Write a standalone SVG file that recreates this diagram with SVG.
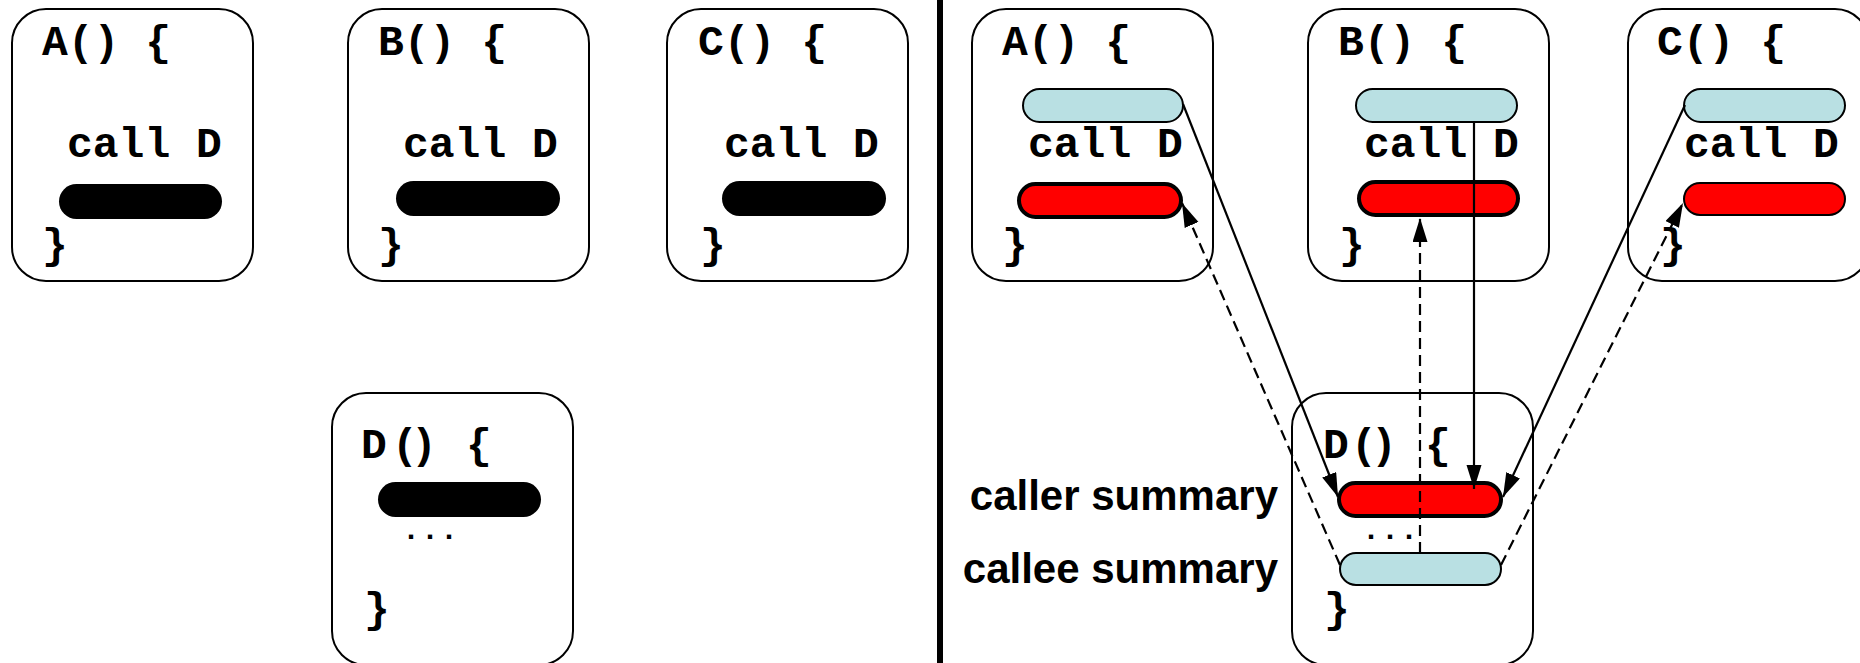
<svg xmlns="http://www.w3.org/2000/svg" width="1860" height="663" viewBox="0 0 1860 663">
<style>
.box{fill:#fff;stroke:#000;stroke-width:2}
.code{font-family:"Liberation Mono","Courier New",monospace;font-weight:bold;font-size:43px;fill:#000}
.dots{font-family:"Liberation Mono","Courier New",monospace;font-weight:bold;font-size:30px;fill:#000}
.lbl{font-family:"Liberation Sans",Arial,sans-serif;font-weight:bold;font-size:42px;fill:#000;text-anchor:end}
.blk{fill:#000}
.blue{fill:#b9e0e3;stroke:#000;stroke-width:2}
.red{fill:#ff0000;stroke:#000;stroke-width:4}
.redthin{fill:#ff0000;stroke:#000;stroke-width:2}
.conn{fill:none;stroke:#000;stroke-width:2.2}
.dash{stroke-dasharray:11 6}
</style>
<defs>
<marker id="arr" markerUnits="userSpaceOnUse" markerWidth="26" markerHeight="16" refX="24" refY="7.5" orient="auto">
<path d="M0,0 L24,7.5 L0,15 Z" fill="#000"/>
</marker>
</defs>
<rect id="divider" x="937" y="0" width="6" height="663" fill="#000"/>
<g id="left-A">
<rect class="box" x="12" y="9" width="241" height="272" rx="34"/>
<text class="code" x="42" y="55">A() {</text>
<text class="code" x="67" y="157">call D</text>
<rect class="blk" x="59" y="184" width="163" height="35" rx="17.5"/>
<text class="code" x="42" y="258">}</text>
</g>
<g id="left-B">
<rect class="box" x="348" y="9" width="241" height="272" rx="34"/>
<text class="code" x="378" y="55">B() {</text>
<text class="code" x="403" y="157">call D</text>
<rect class="blk" x="396" y="181" width="164" height="35" rx="17.5"/>
<text class="code" x="378" y="258">}</text>
</g>
<g id="left-C">
<rect class="box" x="667" y="9" width="241" height="272" rx="34"/>
<text class="code" x="698" y="55">C() {</text>
<text class="code" x="724" y="157">call D</text>
<rect class="blk" x="722" y="181" width="164" height="35" rx="17.5"/>
<text class="code" x="700" y="258">}</text>
</g>
<g id="left-D">
<rect class="box" x="332" y="393" width="241" height="272" rx="34"/>
<text class="code" x="361 392 411 440 466" y="458">D() {</text>
<rect class="blk" x="378" y="482" width="163" height="35" rx="17.5"/>
<text class="dots" x="402 421 440" y="539">...</text>
<text class="code" x="364" y="622">}</text>
</g>
<g id="right-A">
<rect class="box" x="972" y="9" width="241" height="272" rx="34"/>
<text class="code" x="1002" y="55">A() {</text>
<rect class="blue" x="1023" y="89" width="160" height="33" rx="16.5"/>
<text class="code" x="1028" y="157">call D</text>
<rect class="red" x="1019" y="184" width="162" height="33" rx="16.5"/>
<text class="code" x="1002" y="258">}</text>
</g>
<g id="right-B">
<rect class="box" x="1308" y="9" width="241" height="272" rx="34"/>
<text class="code" x="1338" y="55">B() {</text>
<rect class="blue" x="1356" y="89" width="161" height="33" rx="16.5"/>
<text class="code" x="1364" y="157">call D</text>
<rect class="red" x="1359" y="182" width="159" height="33" rx="16.5"/>
<text class="code" x="1339" y="258">}</text>
</g>
<g id="right-C">
<rect class="box" x="1628" y="9" width="241" height="272" rx="34"/>
<text class="code" x="1657" y="55">C() {</text>
<rect class="blue" x="1684" y="89" width="161" height="33" rx="16.5"/>
<text class="code" x="1684" y="157">call D</text>
<rect class="redthin" x="1684" y="183" width="161" height="32" rx="16"/>
<text class="code" x="1660" y="258">}</text>
</g>
<g id="right-D">
<rect class="box" x="1292" y="393" width="241" height="272" rx="34"/>
<text class="code" x="1323 1351 1371 1400 1425" y="458">D() {</text>
<rect class="red" x="1339" y="483" width="162" height="33" rx="16.5"/>
<text class="dots" x="1362 1381 1400" y="539">...</text>
<rect class="blue" x="1340" y="553" width="161" height="32" rx="16"/>
<text class="code" x="1324" y="622">}</text>
</g>
<g id="labels">
<text class="lbl" x="1278" y="510">caller summary</text>
<text class="lbl" x="1278" y="583">callee summary</text>
</g>
<g id="connectors">
<line class="conn" x1="1183" y1="104" x2="1338" y2="497" marker-end="url(#arr)"/>
<line class="conn" x1="1474" y1="122" x2="1474" y2="489" marker-end="url(#arr)"/>
<line class="conn" x1="1685" y1="105" x2="1503" y2="497" marker-end="url(#arr)"/>
<line class="conn dash" x1="1340" y1="565" x2="1182" y2="203" marker-end="url(#arr)"/>
<line class="conn dash" x1="1420" y1="553" x2="1420" y2="218" marker-end="url(#arr)"/>
<line class="conn dash" x1="1501" y1="565" x2="1683" y2="203" marker-end="url(#arr)"/>
</g>
</svg>
